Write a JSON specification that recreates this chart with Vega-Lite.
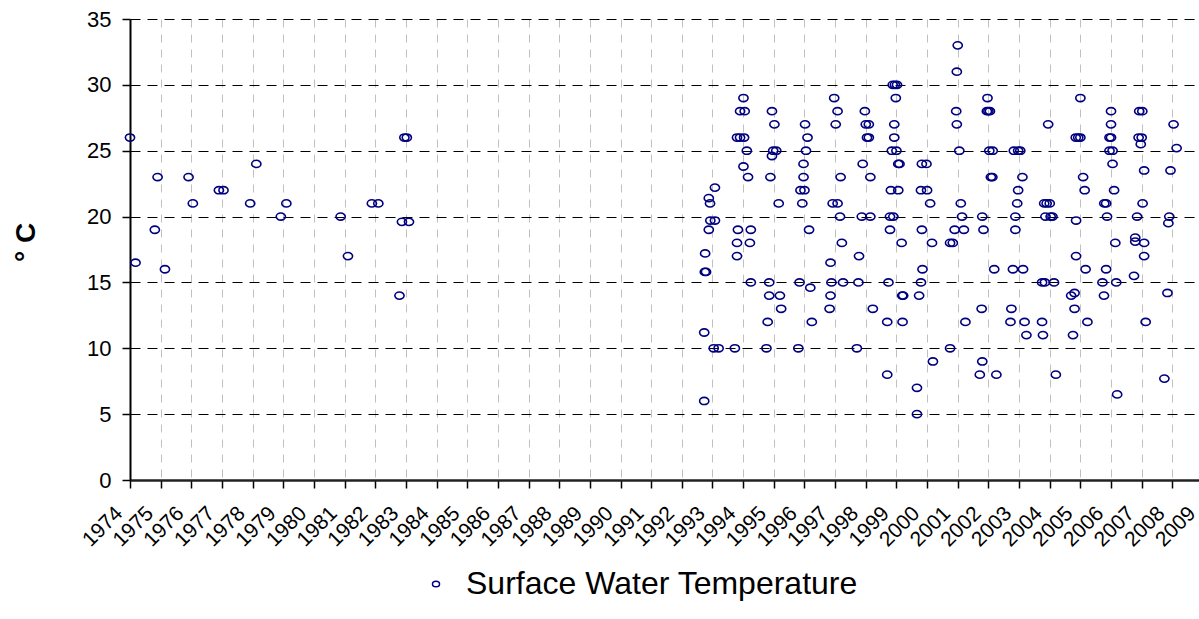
{
  "$schema": "https://vega.github.io/schema/vega-lite/v6.json",
  "width": 1073,
  "height": 461,
  "autosize": {"type": "none"},
  "padding": {"left": 130, "top": 19, "right": -4, "bottom": 139},
  "background": "white",
  "config": {"view": {"stroke": null}, "font": "Liberation Sans"},
  "data": {"values": [
    {"year": 1974.0, "temp": 26}, {"year": 1974.18, "temp": 16.5}, {"year": 1974.81, "temp": 19}, {"year": 1974.9, "temp": 23},
    {"year": 1975.14, "temp": 16}, {"year": 1975.91, "temp": 23}, {"year": 1976.05, "temp": 21}, {"year": 1976.9, "temp": 22},
    {"year": 1977.05, "temp": 22}, {"year": 1977.92, "temp": 21}, {"year": 1978.12, "temp": 24}, {"year": 1978.92, "temp": 20},
    {"year": 1979.1, "temp": 21}, {"year": 1980.87, "temp": 20}, {"year": 1981.11, "temp": 17}, {"year": 1981.89, "temp": 21},
    {"year": 1982.1, "temp": 21}, {"year": 1982.79, "temp": 14}, {"year": 1982.87, "temp": 19.6}, {"year": 1982.95, "temp": 26},
    {"year": 1983.03, "temp": 26}, {"year": 1983.1, "temp": 19.6},
    {"year": 1992.73, "temp": 6}, {"year": 1992.73, "temp": 11.2}, {"year": 1992.75, "temp": 15.8}, {"year": 1992.79, "temp": 15.8},
    {"year": 1992.76, "temp": 17.2}, {"year": 1992.88, "temp": 19}, {"year": 1992.93, "temp": 19.7}, {"year": 1993.08, "temp": 19.7},
    {"year": 1992.88, "temp": 21.4}, {"year": 1992.92, "temp": 21}, {"year": 1993.08, "temp": 22.2}, {"year": 1993.04, "temp": 10},
    {"year": 1993.2, "temp": 10}, {"year": 1993.73, "temp": 10}, {"year": 1993.8, "temp": 17}, {"year": 1993.8, "temp": 18},
    {"year": 1993.83, "temp": 19}, {"year": 1994.22, "temp": 18}, {"year": 1994.25, "temp": 19}, {"year": 1994.25, "temp": 15},
    {"year": 1993.8, "temp": 26}, {"year": 1993.9, "temp": 26}, {"year": 1994.03, "temp": 26}, {"year": 1993.9, "temp": 28},
    {"year": 1994.05, "temp": 28}, {"year": 1994.01, "temp": 29}, {"year": 1994.12, "temp": 25}, {"year": 1994.01, "temp": 23.8},
    {"year": 1994.16, "temp": 23}, {"year": 1994.76, "temp": 10}, {"year": 1994.8, "temp": 12}, {"year": 1994.85, "temp": 14},
    {"year": 1995.2, "temp": 14}, {"year": 1994.85, "temp": 15}, {"year": 1995.24, "temp": 13}, {"year": 1994.89, "temp": 23},
    {"year": 1994.94, "temp": 24.6}, {"year": 1994.98, "temp": 25}, {"year": 1995.08, "temp": 25}, {"year": 1994.94, "temp": 28},
    {"year": 1995.02, "temp": 27}, {"year": 1995.16, "temp": 21}, {"year": 1995.8, "temp": 10}, {"year": 1995.84, "temp": 15},
    {"year": 1996.19, "temp": 14.6}, {"year": 1996.24, "temp": 12}, {"year": 1995.93, "temp": 21}, {"year": 1995.87, "temp": 22},
    {"year": 1996.0, "temp": 22}, {"year": 1995.97, "temp": 23}, {"year": 1995.97, "temp": 24}, {"year": 1996.05, "temp": 25},
    {"year": 1996.1, "temp": 26}, {"year": 1996.02, "temp": 27}, {"year": 1996.15, "temp": 19}, {"year": 1996.97, "temp": 29},
    {"year": 1997.08, "temp": 28}, {"year": 1997.02, "temp": 27}, {"year": 1997.18, "temp": 23}, {"year": 1996.92, "temp": 21},
    {"year": 1997.08, "temp": 21}, {"year": 1997.16, "temp": 20}, {"year": 1997.22, "temp": 18}, {"year": 1996.85, "temp": 16.5},
    {"year": 1996.88, "temp": 15}, {"year": 1997.26, "temp": 15}, {"year": 1996.85, "temp": 14}, {"year": 1996.82, "temp": 13},
    {"year": 1997.78, "temp": 17}, {"year": 1997.76, "temp": 15}, {"year": 1997.71, "temp": 10}, {"year": 1997.9, "temp": 24},
    {"year": 1998.15, "temp": 23}, {"year": 1997.87, "temp": 20}, {"year": 1998.15, "temp": 20}, {"year": 1997.97, "temp": 28},
    {"year": 1998.0, "temp": 27}, {"year": 1998.1, "temp": 27}, {"year": 1998.04, "temp": 26}, {"year": 1998.1, "temp": 26},
    {"year": 1998.23, "temp": 13}, {"year": 1998.7, "temp": 12}, {"year": 1998.7, "temp": 8}, {"year": 1998.74, "temp": 15},
    {"year": 1998.79, "temp": 19}, {"year": 1998.79, "temp": 20}, {"year": 1998.9, "temp": 20}, {"year": 1998.82, "temp": 22},
    {"year": 1999.06, "temp": 22}, {"year": 1998.85, "temp": 25}, {"year": 1999.0, "temp": 25}, {"year": 1998.93, "temp": 26},
    {"year": 1998.93, "temp": 27}, {"year": 1998.98, "temp": 29}, {"year": 1998.88, "temp": 30}, {"year": 1998.95, "temp": 30},
    {"year": 1999.02, "temp": 30}, {"year": 1999.06, "temp": 24}, {"year": 1999.1, "temp": 24}, {"year": 1999.17, "temp": 18},
    {"year": 1999.19, "temp": 14}, {"year": 1999.22, "temp": 14}, {"year": 1999.2, "temp": 12}, {"year": 1999.67, "temp": 7},
    {"year": 1999.67, "temp": 5}, {"year": 1999.74, "temp": 14}, {"year": 1999.8, "temp": 15}, {"year": 1999.85, "temp": 16},
    {"year": 1999.83, "temp": 19}, {"year": 1999.8, "temp": 22}, {"year": 2000.0, "temp": 22}, {"year": 2000.1, "temp": 21},
    {"year": 1999.83, "temp": 24}, {"year": 1999.98, "temp": 24}, {"year": 2000.19, "temp": 9}, {"year": 2000.16, "temp": 18},
    {"year": 2001.0, "temp": 33}, {"year": 2000.97, "temp": 31}, {"year": 2000.95, "temp": 28}, {"year": 2000.97, "temp": 27},
    {"year": 2001.05, "temp": 25}, {"year": 2001.1, "temp": 21}, {"year": 2001.14, "temp": 20}, {"year": 2000.9, "temp": 19},
    {"year": 2001.2, "temp": 19}, {"year": 2000.75, "temp": 18}, {"year": 2000.84, "temp": 18}, {"year": 2001.25, "temp": 12},
    {"year": 2000.75, "temp": 10}, {"year": 2001.78, "temp": 13}, {"year": 2001.8, "temp": 20}, {"year": 2001.84, "temp": 19},
    {"year": 2001.8, "temp": 9}, {"year": 2001.72, "temp": 8}, {"year": 2002.26, "temp": 8}, {"year": 2002.19, "temp": 16},
    {"year": 2001.97, "temp": 29}, {"year": 2001.95, "temp": 28}, {"year": 2002.0, "temp": 28}, {"year": 2002.05, "temp": 28},
    {"year": 2002.03, "temp": 25}, {"year": 2002.14, "temp": 25}, {"year": 2002.08, "temp": 23}, {"year": 2002.13, "temp": 23},
    {"year": 2002.75, "temp": 13}, {"year": 2002.72, "temp": 12}, {"year": 2003.18, "temp": 12}, {"year": 2003.24, "temp": 11},
    {"year": 2002.8, "temp": 16}, {"year": 2003.13, "temp": 16}, {"year": 2002.88, "temp": 19}, {"year": 2002.88, "temp": 20},
    {"year": 2002.94, "temp": 21}, {"year": 2002.97, "temp": 22}, {"year": 2003.11, "temp": 23}, {"year": 2002.83, "temp": 25},
    {"year": 2002.97, "temp": 25}, {"year": 2003.04, "temp": 25}, {"year": 2003.75, "temp": 12}, {"year": 2003.78, "temp": 11},
    {"year": 2003.75, "temp": 15}, {"year": 2003.84, "temp": 15}, {"year": 2004.14, "temp": 15}, {"year": 2003.82, "temp": 21},
    {"year": 2003.9, "temp": 21}, {"year": 2004.0, "temp": 21}, {"year": 2003.86, "temp": 20}, {"year": 2004.03, "temp": 20},
    {"year": 2004.09, "temp": 20}, {"year": 2003.95, "temp": 27}, {"year": 2004.2, "temp": 8}, {"year": 2004.85, "temp": 26},
    {"year": 2004.93, "temp": 26}, {"year": 2005.0, "temp": 26}, {"year": 2005.0, "temp": 29}, {"year": 2005.09, "temp": 23},
    {"year": 2005.14, "temp": 22}, {"year": 2004.86, "temp": 19.7}, {"year": 2004.86, "temp": 17}, {"year": 2005.17, "temp": 16},
    {"year": 2004.7, "temp": 14}, {"year": 2004.81, "temp": 14.2}, {"year": 2004.81, "temp": 13}, {"year": 2004.76, "temp": 11},
    {"year": 2005.23, "temp": 12}, {"year": 2005.78, "temp": 21}, {"year": 2005.84, "temp": 21}, {"year": 2005.87, "temp": 20},
    {"year": 2005.72, "temp": 15}, {"year": 2005.77, "temp": 14}, {"year": 2005.84, "temp": 16}, {"year": 2005.95, "temp": 25},
    {"year": 2006.05, "temp": 25}, {"year": 2005.95, "temp": 26}, {"year": 2006.0, "temp": 26}, {"year": 2006.0, "temp": 27},
    {"year": 2006.0, "temp": 28}, {"year": 2006.05, "temp": 24}, {"year": 2006.1, "temp": 22}, {"year": 2006.14, "temp": 18},
    {"year": 2006.17, "temp": 15}, {"year": 2006.2, "temp": 6.5}, {"year": 2006.79, "temp": 18.4}, {"year": 2006.79, "temp": 18.1},
    {"year": 2006.75, "temp": 15.5}, {"year": 2006.85, "temp": 20}, {"year": 2006.9, "temp": 26}, {"year": 2007.0, "temp": 26},
    {"year": 2006.92, "temp": 28}, {"year": 2007.02, "temp": 28}, {"year": 2006.97, "temp": 25.5}, {"year": 2007.03, "temp": 21},
    {"year": 2007.08, "temp": 23.5}, {"year": 2007.08, "temp": 18}, {"year": 2007.08, "temp": 17}, {"year": 2007.13, "temp": 12},
    {"year": 2007.74, "temp": 7.7}, {"year": 2007.84, "temp": 14.2}, {"year": 2007.87, "temp": 19.5}, {"year": 2007.9, "temp": 20},
    {"year": 2007.94, "temp": 23.5}, {"year": 2008.04, "temp": 27}, {"year": 2008.14, "temp": 25.2}
  ]},
  "transform": [{"calculate": "'Surface Water Temperature'", "as": "series"}],
  "mark": {"type": "point", "filled": false, "shape": "M -1 0 A 1 0.78 0 1 0 1 0 A 1 0.78 0 1 0 -1 0 Z", "size": 85, "strokeWidth": 1.6, "opacity": 1},
  "encoding": {
    "x": {
      "field": "year", "type": "quantitative",
      "scale": {"domain": [1974, 2009], "nice": false, "zero": false},
      "axis": {
        "title": null,
        "values": [1974,1975,1976,1977,1978,1979,1980,1981,1982,1983,1984,1985,1986,1987,1988,1989,1990,1991,1992,1993,1994,1995,1996,1997,1998,1999,2000,2001,2002,2003,2004,2005,2006,2007,2008,2009],
        "format": "d",
        "labelAngle": -45, "labelAlign": "right", "labelBaseline": "middle",
        "labelOffset": -11, "labelPadding": 22,
        "labelFontSize": 21, "labelColor": "black", "labelFont": "Liberation Sans",
        "labelOverlap": false, "labelFlush": false,
        "tickSize": 8, "tickColor": "black", "tickWidth": 1.5,
        "domainColor": "#222222", "domainWidth": 2.5,
        "grid": true, "gridColor": "#c0c0c0", "gridDash": [8, 7], "gridWidth": 1
      }
    },
    "y": {
      "field": "temp", "type": "quantitative",
      "scale": {"domain": [0, 35], "nice": false},
      "axis": {
        "title": "° C", "titleFontSize": 28, "titleFontWeight": "bold", "titleColor": "black", "titleFont": "Liberation Sans",
        "titleAngle": -90, "titleX": -104, "titleY": 223, "titleAlign": "center", "titleBaseline": "middle",
        "values": [0, 5, 10, 15, 20, 25, 30, 35],
        "labelFontSize": 22, "labelColor": "black", "labelFont": "Liberation Sans", "labelPadding": 11,
        "tickSize": 8, "tickColor": "black", "tickWidth": 1.5,
        "domainColor": "black", "domainWidth": 2,
        "grid": true, "gridColor": "black", "gridDash": [10, 7], "gridWidth": 1
      }
    },
    "color": {
      "field": "series", "type": "nominal",
      "scale": {"range": ["#000080"]},
      "legend": {
        "orient": "none", "legendX": 290, "legendY": 549, "direction": "horizontal",
        "title": null, "padding": 0,
        "labelFontSize": 32, "labelFont": "Liberation Sans", "labelColor": "black", "labelOffset": 14, "labelLimit": 0,
        "symbolType": "M -1 0 A 1 0.78 0 1 0 1 0 A 1 0.78 0 1 0 -1 0 Z", "symbolSize": 50, "symbolStrokeWidth": 1.5
      }
    }
  }
}
